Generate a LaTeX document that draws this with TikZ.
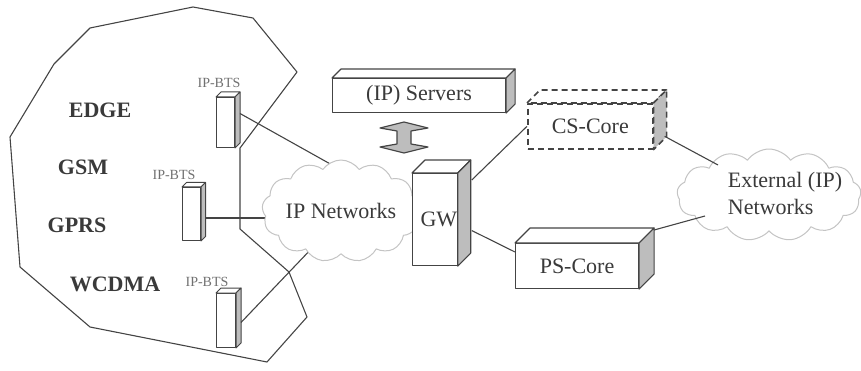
\documentclass[tikz,border=0pt]{standalone}
\usepackage{fontspec}
\setmainfont{Liberation Serif}
\usetikzlibrary{shapes.symbols}
\definecolor{ln}{HTML}{444444}
\definecolor{tx}{HTML}{3A3A3A}
\definecolor{sd}{HTML}{BDBDBD}
\definecolor{cl}{HTML}{C4C4C4}
\definecolor{bl}{HTML}{707070}
\newcommand{\boxdepth}[3]{%
  \draw[#3] (#1.north west) -- ++(#2,-#2) -- ([shift={(#2,-#2)}]#1.north east) -- (#1.north east) -- cycle;
  \draw[#3, fill=sd] (#1.north east) -- ++(#2,-#2) -- ([shift={(#2,-#2)}]#1.south east) -- (#1.south east) -- cycle;
}
\begin{document}
\begin{tikzpicture}[x=1pt,y=-1pt, line join=round,
  face/.style={draw=ln, line width=1.1pt, fill=white, inner sep=0pt, anchor=north west,
    font=\fontsize{22}{24}\selectfont, text=tx},
  edge3d/.style={draw=ln, line width=1.1pt, fill=white},
  dash3d/.style={draw=ln, line width=1.6pt, fill=white, dash pattern=on 6pt off 4pt},
  netcloud/.style={cloud, cloud puffs=13, cloud puff arc=110, cloud ignores aspect,
    draw=cl, line width=1pt, fill=white, inner sep=0pt, font=\fontsize{22}{24}\selectfont, text=tx},
  conn/.style={draw=ln, line width=1.1pt},
  tech/.style={font=\bfseries\fontsize{22}{24}\selectfont, text=tx},
  btslabel/.style={font=\fontsize{14}{16}\selectfont, text=bl},
  lbl/.style={font=\fontsize{22}{27}\selectfont, text=tx, align=left},
  ]
\useasboundingbox (0,0) rectangle (861,371);

% base stations
\node[face, line width=1pt, minimum width=18pt, minimum height=50pt] (bts1) at (216,97) {};
\boxdepth{bts1}{5}{edge3d, line width=1pt}
\node[face, line width=1pt, minimum width=18pt, minimum height=53pt] (bts2) at (182,187) {};
\boxdepth{bts2}{4.5}{edge3d, line width=1pt}
\node[face, line width=1pt, minimum width=19pt, minimum height=54pt] (bts3) at (216,293) {};
\boxdepth{bts3}{5}{edge3d, line width=1pt}

\node[btslabel] (l1) at (219,83) {IP-BTS};
\node[btslabel] (l2) at (174,175) {IP-BTS};
\node[btslabel] (l3) at (207,282) {IP-BTS};

\node[tech] (edge) at (100,110) {EDGE};
\node[tech] (gsm) at (83,167) {GSM};
\node[tech] (gprs) at (77,225) {GPRS};
\node[tech] (wcdma) at (115,284) {WCDMA};

% connectors (drawn before clouds so that clouds cover their ends)
\coordinate (ipc) at (341,211);
\coordinate (exc) at (769,195);
\draw[conn] ([shift={(5,-9)}]bts1.east) -- ([shift={(9,-36)}]ipc);
\draw[conn] ([shift={(4,4)}]bts2.east) -- ([shift={(-66,7)}]ipc);
\draw[conn] ([shift={(5,2)}]bts3.east) -- ([shift={(-26,34)}]ipc);

% clouds
\node[netcloud, minimum width=158pt, minimum height=102pt] (ipnet) at (ipc) {IP Networks};
\node[netcloud, minimum width=184pt, minimum height=92pt] (ext) at (exc) {};
\node[lbl] (extlbl) at (785,193) {External (IP)\\Networks};

% coverage outline
\draw[ln, line width=1.1pt] (193,7) -- (253,18) -- (297,72) -- (240,148) -- (240,229) -- (289,272)
  -- (307,317) -- (267,362) -- (90,327) -- (20,267) -- (10,137) -- (54,64) -- (90,28) -- cycle;

% servers
\node[face, minimum width=173pt, minimum height=34pt] (srv) at (332,78) {(IP) Servers};
\boxdepth{srv}{9}{edge3d}

% double arrow
\draw[ln, fill=sd, line width=1.2pt] (380,128) -- (404,122) -- (428,128) -- (411,131) -- (411,144)
  -- (428,147) -- (404,153) -- (380,147) -- (397,144) -- (397,131) -- cycle;

% gateway
\node[face, minimum width=43pt, minimum height=92pt] (gw) at (412,173) {\hspace*{8pt}GW};
\boxdepth{gw}{13}{edge3d}

% cores
\node[face, dash3d, minimum width=125pt, minimum height=45pt] (cs) at (527,103) {CS-Core};
\boxdepth{cs}{13}{dash3d}
\node[face, minimum width=123pt, minimum height=45pt] (ps) at (515,243) {PS-Core};
\boxdepth{ps}{15}{edge3d}

\draw[conn] ([shift={(14,7)}]gw.north east) -- (cs.west);
\draw[conn] ([shift={(14,11)}]gw.east) -- ([shift={(0,9)}]ps.north west);
\draw[conn] ([shift={(11,10)}]cs.east) -- ([shift={(-51,-30)}]ext.center);
\draw[conn] ([shift={(15,-13)}]ps.north east) -- ([shift={(-64,21)}]ext.center);
\end{tikzpicture}
\end{document}
